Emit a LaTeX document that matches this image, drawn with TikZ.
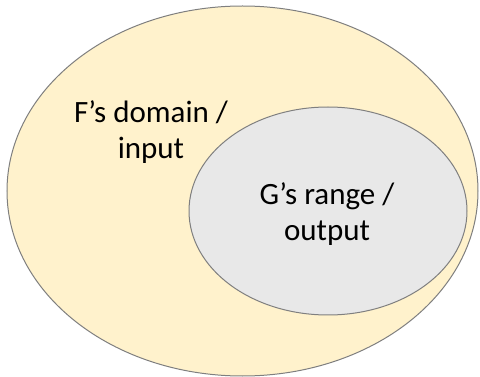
\documentclass[tikz,border=0pt]{standalone}
\usepackage{fontspec}
\setmainfont{Carlito}
\definecolor{outerfill}{HTML}{FFF2CC}
\definecolor{innerfill}{HTML}{E8E8E8}
\definecolor{edge}{HTML}{7F7F7F}
\begin{document}
\begin{tikzpicture}[x=1pt,y=-1pt,
  setshape/.style={draw=edge,line width=1pt},
  lbl/.style={align=center,font=\fontsize{31}{36.5}\selectfont,inner sep=0pt}]
\useasboundingbox (0,0) rectangle (480,377);
\draw[setshape,fill=outerfill] (242.5,191) ellipse [x radius=235.5,y radius=185];
\draw[setshape,fill=innerfill] (328,211) ellipse [x radius=139,y radius=104];
\node[lbl] (fdom) at (151,132) {F’s domain /\\input};
\node[lbl] (grng) at (327,214) {G’s range /\\output};
\end{tikzpicture}
\end{document}
